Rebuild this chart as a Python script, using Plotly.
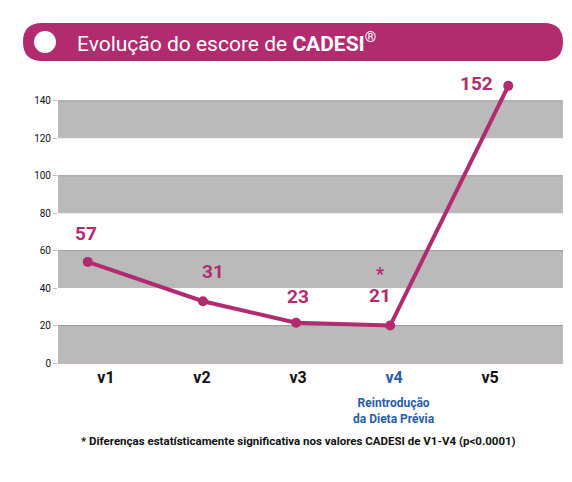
import plotly.graph_objects as go

categories = ["v1", "v2", "v3", "v4", "v5"]
x_pos = [0.31, 1.51, 2.48, 3.46, 4.69]
values = [54, 33, 21.5, 20, 148]
labels = ["57", "31", "23", "21", "152"]
label_dx = [-2, 10, 2, -10, -32]
label_dy = [-28, -30, -26, -30, -2]
y_ticks = [0, 20, 40, 60, 80, 100, 120, 140]
bands = [(0, 20), (40, 60), (80, 100), (120, 140)]

MAG = "#B12C6F"
W, H = 572, 482
def px(x): return x / W
def py(y): return (H - y) / H

fig = go.Figure()
fig.add_trace(go.Scatter(x=x_pos, y=values, mode="lines+markers",
                         line=dict(color=MAG, width=4), marker=dict(size=10, color=MAG),
                         cliponaxis=False, hoverinfo="skip"))
shapes = []
for a, b in bands:
    shapes.append(dict(type="rect", xref="x", yref="y", x0=0, x1=5.26, y0=a, y1=b,
                       fillcolor="#BABABA", line=dict(width=0), layer="below"))
    shapes.append(dict(type="line", xref="x", yref="y", x0=0, x1=5.26, y0=b, y1=b,
                       line=dict(color="#999999", width=1), layer="below"))
x0, x1, y0, y1, r = 15, 555, 15, 53, 19
pth = (f"M{px(x0+r)},{py(y0)} L{px(x1-r)},{py(y0)} "
       f"Q{px(x1)},{py(y0)} {px(x1)},{py((y0+y1)/2)} Q{px(x1)},{py(y1)} {px(x1-r)},{py(y1)} "
       f"L{px(x0+r)},{py(y1)} Q{px(x0)},{py(y1)} {px(x0)},{py((y0+y1)/2)} Q{px(x0)},{py(y0)} {px(x0+r)},{py(y0)} Z")
shapes.append(dict(type="path", xref="paper", yref="paper", path=pth, fillcolor=MAG,
                   line=dict(width=0)))
shapes.append(dict(type="circle", xref="paper", yref="paper", x0=px(26), x1=px(48),
                   y0=py(45), y1=py(23), fillcolor="white", line=dict(width=0)))
fig.update_layout(shapes=shapes)

ann = [dict(xref="paper", yref="paper", x=px(67), y=py(34), xanchor="left", yanchor="middle",
            text="Evolução do escore de <b>CADESI</b><sup>®</sup>", showarrow=False,
            font=dict(size=21, color="white", family="Roboto"))]
for xp, v, t, dx, dy in zip(x_pos, values, labels, label_dx, label_dy):
    ann.append(dict(x=xp, y=v, text=f"<b>{t}</b>", showarrow=False, xshift=dx, yshift=-dy,
                    font=dict(size=19, color=MAG, family="Roboto")))
ann.append(dict(x=x_pos[3], y=values[3], text="<b>*</b>", showarrow=False, xshift=-10, yshift=52,
                font=dict(size=18, color=MAG, family="Roboto")))
ann.append(dict(x=3.5, y=0, yshift=-48, text="<b>Reintrodução<br>da Dieta Prévia</b>", showarrow=False,
                font=dict(size=12, color="#2A5CAA", family="Roboto")))
ann.append(dict(xref="paper", yref="paper", x=px(290), y=py(442), showarrow=False,
                text="<b>* Diferenças estatísticamente significativa nos valores CADESI de V1-V4 (p<0.0001)</b>",
                font=dict(size=11.5, color="#111", family="Roboto")))
fig.update_layout(annotations=ann)

ticktext = [f"<b>{c}</b>" if c != "v4" else f"<b><span style='color:#2A5CAA'>{c}</span></b>" for c in categories]
fig.update_layout(
    width=W, height=H, margin=dict(l=0, r=0, t=0, b=0, autoexpand=False),
    plot_bgcolor="white", paper_bgcolor="white", showlegend=False,
    xaxis=dict(domain=[px(50), px(555)], range=[0, 5.26], tickvals=[0.5, 1.5, 2.5, 3.5, 4.5],
               ticktext=ticktext, showgrid=False, zeroline=False, showline=True, linecolor="#E0A8C8",
               tickfont=dict(size=16, color="#111", family="Roboto"), fixedrange=True),
    yaxis=dict(domain=[py(355), py(55.4)], range=[0, 160], tickvals=y_ticks, showgrid=False,
               zeroline=False, ticks="outside", ticklen=4, tickcolor="#E0A8C8",
               tickfont=dict(size=10, color="#111", family="Roboto"), fixedrange=True),
)
fig.write_html("out.html")
